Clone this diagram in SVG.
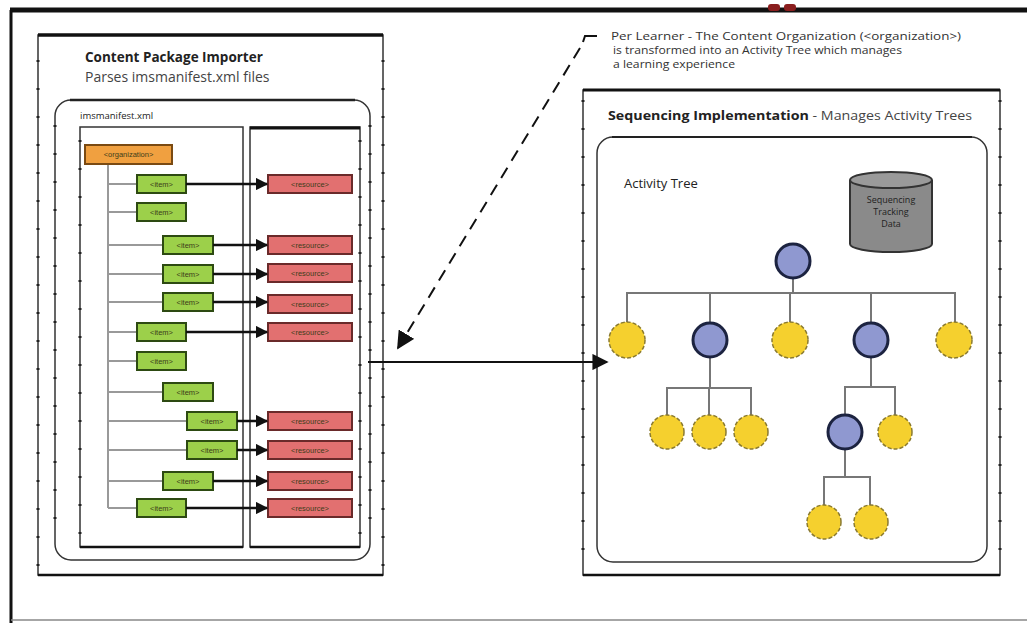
<svg xmlns="http://www.w3.org/2000/svg" width="1027" height="623" viewBox="0 0 1027 623">
  <style>
    .sans { font-family: "Open Sans", "Liberation Sans", sans-serif; fill: #222; }
    .title { font-size: 13.5px; font-weight: bold; }
    .sub { font-size: 14px; fill: #444; }
    .note { font-size: 10.5px; fill: #333; }
    .frame { fill: none; stroke: #333; stroke-width: 1.5; }
    .ticks { fill: none; stroke: #222; stroke-width: 3; stroke-dasharray: 2 26; }
    .tag { font-family: "Liberation Sans", sans-serif; font-size: 7.5px; text-anchor: middle; fill: #3d3d1a; }
    .item rect { fill: #9cd04a; stroke: #2d4a12; stroke-width: 2; }
    .res rect { fill: #e27070; stroke: #6a2a2a; stroke-width: 2; }
    .org rect { fill: #f0a040; stroke: #7a4a12; stroke-width: 2; }
    .tree { fill: none; stroke: #777; stroke-width: 2; }
    .stem { stroke: #999; stroke-width: 2; }
    .link { stroke: #111; stroke-width: 2.5; marker-end: url(#head); }
    .cluster { fill: #8f98d0; stroke: #1c2340; stroke-width: 3; }
    .leaf { fill: #f5d02e; stroke: #8a7a30; stroke-width: 1.5; stroke-dasharray: 4 2; }
  </style>
  <defs>
    <marker id="head" viewBox="0 0 10 10" refX="9" refY="5" markerWidth="5" markerHeight="5" orient="auto" markerUnits="strokeWidth">
      <path d="M0,0 L10,5 L0,10 z" fill="#111"/>
    </marker>
    <marker id="bighead" viewBox="0 0 10 10" refX="9" refY="5" markerWidth="9" markerHeight="9" orient="auto" markerUnits="strokeWidth">
      <path d="M0,0 L10,5 L0,10 z" fill="#111"/>
    </marker>
  </defs>

  <rect width="1027" height="623" fill="#ffffff"/>

  <!-- outer frame -->
  <g id="outer-frame">
    <line x1="10" y1="10" x2="1027" y2="10" stroke="#111" stroke-width="5"/>
    <line x1="11" y1="10" x2="11" y2="623" stroke="#111" stroke-width="3"/>
    <line x1="11" y1="620" x2="1027" y2="620" stroke="#888" stroke-width="1.5"/>
    <rect x="768" y="4" width="12" height="7" rx="3" fill="#8a1e1e"/>
    <rect x="784" y="4" width="12" height="7" rx="3" fill="#8a1e1e"/>
  </g>

  <!-- Content Package Importer -->
  <g id="importer">
    <rect x="38" y="35" width="345" height="540" class="frame"/>
    <line x1="38" y1="35" x2="383" y2="35" stroke="#111" stroke-width="3.5"/>
    <line x1="38" y1="575" x2="383" y2="575" stroke="#111" stroke-width="2.5"/>
    <line x1="38" y1="60" x2="38" y2="575" class="ticks"/>
    <line x1="383" y1="60" x2="383" y2="575" class="ticks"/>
    <text x="85" y="62" class="sans title">Content Package Importer</text>
    <text x="85" y="82" class="sans sub">Parses imsmanifest.xml files</text>
  </g>

  <g id="manifest">
    <rect x="55" y="100" width="315" height="460" rx="16" class="frame" stroke="#555"/>
    <line x1="70" y1="100" x2="355" y2="100" stroke="#222" stroke-width="2.5"/>
    <line x1="55" y1="125" x2="55" y2="545" class="ticks"/>
    <line x1="370" y1="125" x2="370" y2="545" class="ticks"/>
    <text x="80" y="119" class="sans" font-size="9.5" fill="#444">imsmanifest.xml</text>
  </g>

  <g id="item-column">
    <rect x="80" y="127" width="163" height="420" class="frame"/>
    <line x1="80" y1="547" x2="243" y2="547" stroke="#111" stroke-width="2.5"/>
    <line x1="80" y1="140" x2="80" y2="545" class="ticks"/>
  </g>

  <g id="resource-column">
    <rect x="250" y="127" width="110" height="420" class="frame"/>
    <line x1="250" y1="128" x2="360" y2="128" stroke="#111" stroke-width="3"/>
    <line x1="250" y1="547" x2="360" y2="547" stroke="#111" stroke-width="2.5"/>
    <line x1="360" y1="140" x2="360" y2="545" class="ticks"/>
  </g>

  <!-- organization tree lines -->
  <g id="org-tree">
    <line x1="108" y1="164" x2="108" y2="508" class="stem"/>
    <line x1="108" y1="184" x2="137" y2="184" class="stem"/>
    <line x1="108" y1="212" x2="137" y2="212" class="stem"/>
    <line x1="108" y1="245" x2="163" y2="245" class="stem"/>
    <line x1="108" y1="274" x2="163" y2="274" class="stem"/>
    <line x1="108" y1="302" x2="163" y2="302" class="stem"/>
    <line x1="108" y1="332" x2="137" y2="332" class="stem"/>
    <line x1="108" y1="361" x2="137" y2="361" class="stem"/>
    <line x1="108" y1="392" x2="163" y2="392" class="stem"/>
    <line x1="108" y1="421" x2="187" y2="421" class="stem"/>
    <line x1="108" y1="450" x2="187" y2="450" class="stem"/>
    <line x1="108" y1="481" x2="163" y2="481" class="stem"/>
    <line x1="108" y1="508" x2="137" y2="508" class="stem"/>
  </g>

  <g id="organization" class="org">
    <rect x="85" y="145" width="87" height="19"/>
    <text x="128.5" y="157" class="tag">&lt;organization&gt;</text>
  </g>

  <!-- items -->
  <g id="item-1" class="item"><rect x="137" y="175" width="49" height="18"/><text x="161.5" y="186.5" class="tag">&lt;item&gt;</text></g>
  <g id="item-2" class="item"><rect x="137" y="203" width="49" height="18"/><text x="161.5" y="214.5" class="tag">&lt;item&gt;</text></g>
  <g id="item-3" class="item"><rect x="163" y="236" width="50" height="18"/><text x="188" y="247.5" class="tag">&lt;item&gt;</text></g>
  <g id="item-4" class="item"><rect x="163" y="265" width="50" height="18"/><text x="188" y="276.5" class="tag">&lt;item&gt;</text></g>
  <g id="item-5" class="item"><rect x="163" y="293" width="50" height="18"/><text x="188" y="304.5" class="tag">&lt;item&gt;</text></g>
  <g id="item-6" class="item"><rect x="137" y="323" width="49" height="18"/><text x="161.5" y="334.5" class="tag">&lt;item&gt;</text></g>
  <g id="item-7" class="item"><rect x="137" y="352" width="49" height="18"/><text x="161.5" y="363.5" class="tag">&lt;item&gt;</text></g>
  <g id="item-8" class="item"><rect x="163" y="383" width="50" height="18"/><text x="188" y="394.5" class="tag">&lt;item&gt;</text></g>
  <g id="item-9" class="item"><rect x="187" y="412" width="50" height="18"/><text x="212" y="423.5" class="tag">&lt;item&gt;</text></g>
  <g id="item-10" class="item"><rect x="187" y="441" width="50" height="18"/><text x="212" y="452.5" class="tag">&lt;item&gt;</text></g>
  <g id="item-11" class="item"><rect x="163" y="472" width="50" height="18"/><text x="188" y="483.5" class="tag">&lt;item&gt;</text></g>
  <g id="item-12" class="item"><rect x="137" y="499" width="49" height="18"/><text x="161.5" y="510.5" class="tag">&lt;item&gt;</text></g>

  <!-- resources -->
  <g id="resource-1" class="res"><rect x="268" y="175" width="84" height="18"/><text x="310" y="186.5" class="tag">&lt;resource&gt;</text></g>
  <g id="resource-2" class="res"><rect x="268" y="236" width="84" height="18"/><text x="310" y="247.5" class="tag">&lt;resource&gt;</text></g>
  <g id="resource-3" class="res"><rect x="268" y="264" width="84" height="18"/><text x="310" y="275.5" class="tag">&lt;resource&gt;</text></g>
  <g id="resource-4" class="res"><rect x="268" y="295" width="84" height="18"/><text x="310" y="306.5" class="tag">&lt;resource&gt;</text></g>
  <g id="resource-5" class="res"><rect x="268" y="323" width="84" height="18"/><text x="310" y="334.5" class="tag">&lt;resource&gt;</text></g>
  <g id="resource-6" class="res"><rect x="268" y="412" width="84" height="18"/><text x="310" y="423.5" class="tag">&lt;resource&gt;</text></g>
  <g id="resource-7" class="res"><rect x="268" y="441" width="84" height="18"/><text x="310" y="452.5" class="tag">&lt;resource&gt;</text></g>
  <g id="resource-8" class="res"><rect x="268" y="472" width="84" height="18"/><text x="310" y="483.5" class="tag">&lt;resource&gt;</text></g>
  <g id="resource-9" class="res"><rect x="268" y="499" width="84" height="18"/><text x="310" y="510.5" class="tag">&lt;resource&gt;</text></g>

  <!-- Sequencing Implementation -->
  <g id="sequencing">
    <rect x="583" y="90" width="417" height="485" class="frame"/>
    <line x1="583" y1="90" x2="1000" y2="90" stroke="#111" stroke-width="3"/>
    <line x1="583" y1="575" x2="1000" y2="575" stroke="#111" stroke-width="2.5"/>
    <line x1="1000" y1="100" x2="1000" y2="575" class="ticks"/>
    <line x1="583" y1="100" x2="583" y2="575" class="ticks" stroke-width="1.5"/>
    <text x="608" y="120" class="sans" font-size="13" textLength="364" lengthAdjust="spacingAndGlyphs"><tspan font-weight="bold">Sequencing Implementation</tspan><tspan fill="#444"> - Manages Activity Trees</tspan></text>
  </g>

  <g id="activity-tree">
    <rect x="597" y="137" width="390" height="425" rx="16" class="frame" stroke="#555"/>
    <line x1="612" y1="137" x2="972" y2="137" stroke="#222" stroke-width="2"/>
    <text x="624" y="188" class="sans" font-size="13" fill="#333">Activity Tree</text>
  </g>

  <g id="tracking-data">
    <path d="M850,180 L850,244 A41,8 0 0 0 932,244 L932,180" fill="#8a8a8a" stroke="#333" stroke-width="2"/>
    <ellipse cx="891" cy="180" rx="41" ry="8" fill="#9a9a9a" stroke="#333" stroke-width="2"/>
    <text x="891" y="203" class="sans" font-size="9" text-anchor="middle" fill="#222">Sequencing</text>
    <text x="891" y="215" class="sans" font-size="9" text-anchor="middle" fill="#222">Tracking</text>
    <text x="891" y="227" class="sans" font-size="9" text-anchor="middle" fill="#222">Data</text>
  </g>

  <!-- tree branches -->
  <g id="tree-lines" class="tree">
    <path d="M793,278 V293 M627,340 V293 H955 V340 M710,293 V340 M790,293 V340 M871,293 V340"/>
    <path d="M710,340 V388 M667,432 V388 H751 V432 M709,388 V432"/>
    <path d="M871,340 V387 M845,432 V387 H895 V432"/>
    <path d="M845,432 V477 M824,522 V477 H870 V522"/>
  </g>

  <g id="root"><circle cx="793" cy="261" r="17" class="cluster"/></g>
  <g id="node-1"><circle cx="627" cy="340" r="18" class="leaf"/></g>
  <g id="node-2"><circle cx="710" cy="340" r="17" class="cluster"/></g>
  <g id="node-3"><circle cx="790" cy="340" r="18" class="leaf"/></g>
  <g id="node-4"><circle cx="871" cy="340" r="17" class="cluster"/></g>
  <g id="node-5"><circle cx="954" cy="340" r="18" class="leaf"/></g>
  <g id="node-6"><circle cx="667" cy="432" r="17" class="leaf"/></g>
  <g id="node-7"><circle cx="709" cy="432" r="17" class="leaf"/></g>
  <g id="node-8"><circle cx="751" cy="432" r="17" class="leaf"/></g>
  <g id="node-9"><circle cx="845" cy="432" r="17" class="cluster"/></g>
  <g id="node-10"><circle cx="895" cy="432" r="17" class="leaf"/></g>
  <g id="node-11"><circle cx="824" cy="522" r="17" class="leaf"/></g>
  <g id="node-12"><circle cx="871" cy="522" r="17" class="leaf"/></g>

  <g id="annotation">
    <text x="611" y="40" class="sans note" textLength="350" lengthAdjust="spacingAndGlyphs">Per Learner - The Content Organization (&lt;organization&gt;)</text>
    <text x="613" y="54" class="sans note" textLength="289" lengthAdjust="spacingAndGlyphs">is transformed into an Activity Tree which manages</text>
    <text x="613" y="68" class="sans note" textLength="122" lengthAdjust="spacingAndGlyphs">a learning experience</text>
  </g>

  <!-- connectors -->
  <g id="connectors">
    <line x1="186" y1="184" x2="267" y2="184" class="link"/>
    <line x1="213" y1="245" x2="267" y2="245" class="link" stroke-width="3"/>
    <line x1="213" y1="274" x2="267" y2="274" class="link"/>
    <line x1="213" y1="302" x2="267" y2="302" class="link"/>
    <line x1="186" y1="332" x2="267" y2="332" class="link"/>
    <line x1="237" y1="421" x2="267" y2="421" class="link"/>
    <line x1="237" y1="450" x2="267" y2="450" class="link"/>
    <line x1="213" y1="481" x2="267" y2="481" class="link"/>
    <line x1="186" y1="508" x2="267" y2="508" class="link"/>
    <line x1="368" y1="362" x2="607" y2="362" stroke="#111" stroke-width="1.8" marker-end="url(#bighead)"/>
    <path d="M597,36 H585 L583,42" fill="none" stroke="#111" stroke-width="2"/>
    <line x1="580" y1="48" x2="398" y2="348" stroke="#111" stroke-width="2" stroke-dasharray="12 8" marker-end="url(#bighead)"/>
  </g>
</svg>
